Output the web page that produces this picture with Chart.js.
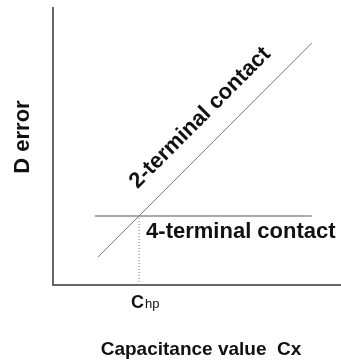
<!DOCTYPE html>
<html>
<head>
<meta charset="utf-8">
<script src="https://cdn.jsdelivr.net/npm/chart.js@4"></script>
<style>
  html, body { margin: 0; padding: 0; background: #fff; }
  #wrap { width: 341px; height: 360px; }
</style>
</head>
<body>
<div id="wrap"><canvas id="errChart"></canvas></div>
<script>
// both axes in arbitrary units, 0..100
const twoTermX = [15.7, 90.2];
const twoTermY = [10.1, 87.4];
const fourTermX = [14.6, 90.2];
const fourTermY = [24.9, 24.9];
const chpX = [30, 30];
const chpY = [0, 24.9];
const lineLabels = ["2-terminal contact", "4-terminal contact"];
const chpLabel = ["C", "hp"];
const xTitle = "Capacitance value  Cx";
const yTitle = "D error";

const FONT = "'Liberation Sans', Arial, sans-serif";

function pts(xs, ys) {
  return xs.map((x, i) => ({ x: x, y: ys[i] }));
}

// text labels drawn on top of the lines
const labelPlugin = {
  id: "labels",
  afterDatasetsDraw(chart) {
    const ctx = chart.ctx;
    const sx = chart.scales.x;
    const sy = chart.scales.y;
    ctx.save();
    ctx.fillStyle = "#111";

    // 2-terminal label runs along the sloped line
    const t = 0.564;
    const lx = twoTermX[0] + (twoTermX[1] - twoTermX[0]) * t;
    const ly = twoTermY[0] + (twoTermY[1] - twoTermY[0]) * t;
    const ang = Math.atan2(
      sy.getPixelForValue(twoTermY[1]) - sy.getPixelForValue(twoTermY[0]),
      sx.getPixelForValue(twoTermX[1]) - sx.getPixelForValue(twoTermX[0])
    );
    ctx.save();
    ctx.translate(sx.getPixelForValue(lx), sy.getPixelForValue(ly));
    ctx.rotate(ang);
    ctx.font = "bold 22px " + FONT;
    ctx.textAlign = "center";
    ctx.textBaseline = "alphabetic";
    ctx.fillText(lineLabels[0], 0, -20);
    ctx.restore();

    // 4-terminal label under the flat line
    ctx.font = "bold 22px " + FONT;
    ctx.textAlign = "left";
    ctx.textBaseline = "alphabetic";
    ctx.fillText(lineLabels[1], sx.getPixelForValue(chpX[0]) + 7, sy.getPixelForValue(fourTermY[0]) + 22);

    // C_hp marker below the axis
    const cx = sx.getPixelForValue(chpX[0]) - 8;
    ctx.font = "bold 18px " + FONT;
    ctx.fillText(chpLabel[0], cx, 308);
    const cw = ctx.measureText(chpLabel[0]).width;
    ctx.font = "13px " + FONT;
    ctx.fillText(chpLabel[1], cx + cw + 1, 308);

    // axis titles
    ctx.font = "bold 19px " + FONT;
    ctx.textAlign = "center";
    ctx.fillText(xTitle, 201, 355);

    ctx.save();
    ctx.translate(23, 137);
    ctx.rotate(-Math.PI / 2);
    ctx.font = "bold 22px " + FONT;
    ctx.textBaseline = "middle";
    ctx.fillText(yTitle, 0, 0);
    ctx.restore();

    ctx.restore();
  }
};

new Chart(document.getElementById("errChart").getContext("2d"), {
  type: "scatter",
  data: {
    datasets: [
      {
        label: lineLabels[0],
        data: pts(twoTermX, twoTermY),
        showLine: true,
        borderColor: "#7a7a7a",
        borderWidth: 1,
        pointRadius: 0
      },
      {
        label: lineLabels[1],
        data: pts(fourTermX, fourTermY),
        showLine: true,
        borderColor: "#ababab",
        borderWidth: 2,
        pointRadius: 0
      },
      {
        label: "Chp",
        data: pts(chpX, chpY),
        showLine: true,
        borderColor: "#777",
        borderWidth: 1,
        borderDash: [1, 2],
        pointRadius: 0
      }
    ]
  },
  options: {
    responsive: true,
    maintainAspectRatio: false,
    animation: false,
    layout: {
      padding: { left: 53, top: 8, right: 1, bottom: 75 }
    },
    plugins: {
      legend: { display: false },
      tooltip: { enabled: false }
    },
    scales: {
      x: {
        type: "linear",
        min: 0,
        max: 100,
        grid: { display: false },
        ticks: { display: false },
        border: { display: true, color: "#666", width: 2 },
        afterFit: (scale) => { scale.height = 0; }
      },
      y: {
        type: "linear",
        min: 0,
        max: 100,
        grid: { display: false },
        ticks: { display: false },
        border: { display: true, color: "#666", width: 2 },
        afterFit: (scale) => { scale.width = 0; }
      }
    }
  },
  plugins: [labelPlugin]
});
</script>
</body>
</html>
